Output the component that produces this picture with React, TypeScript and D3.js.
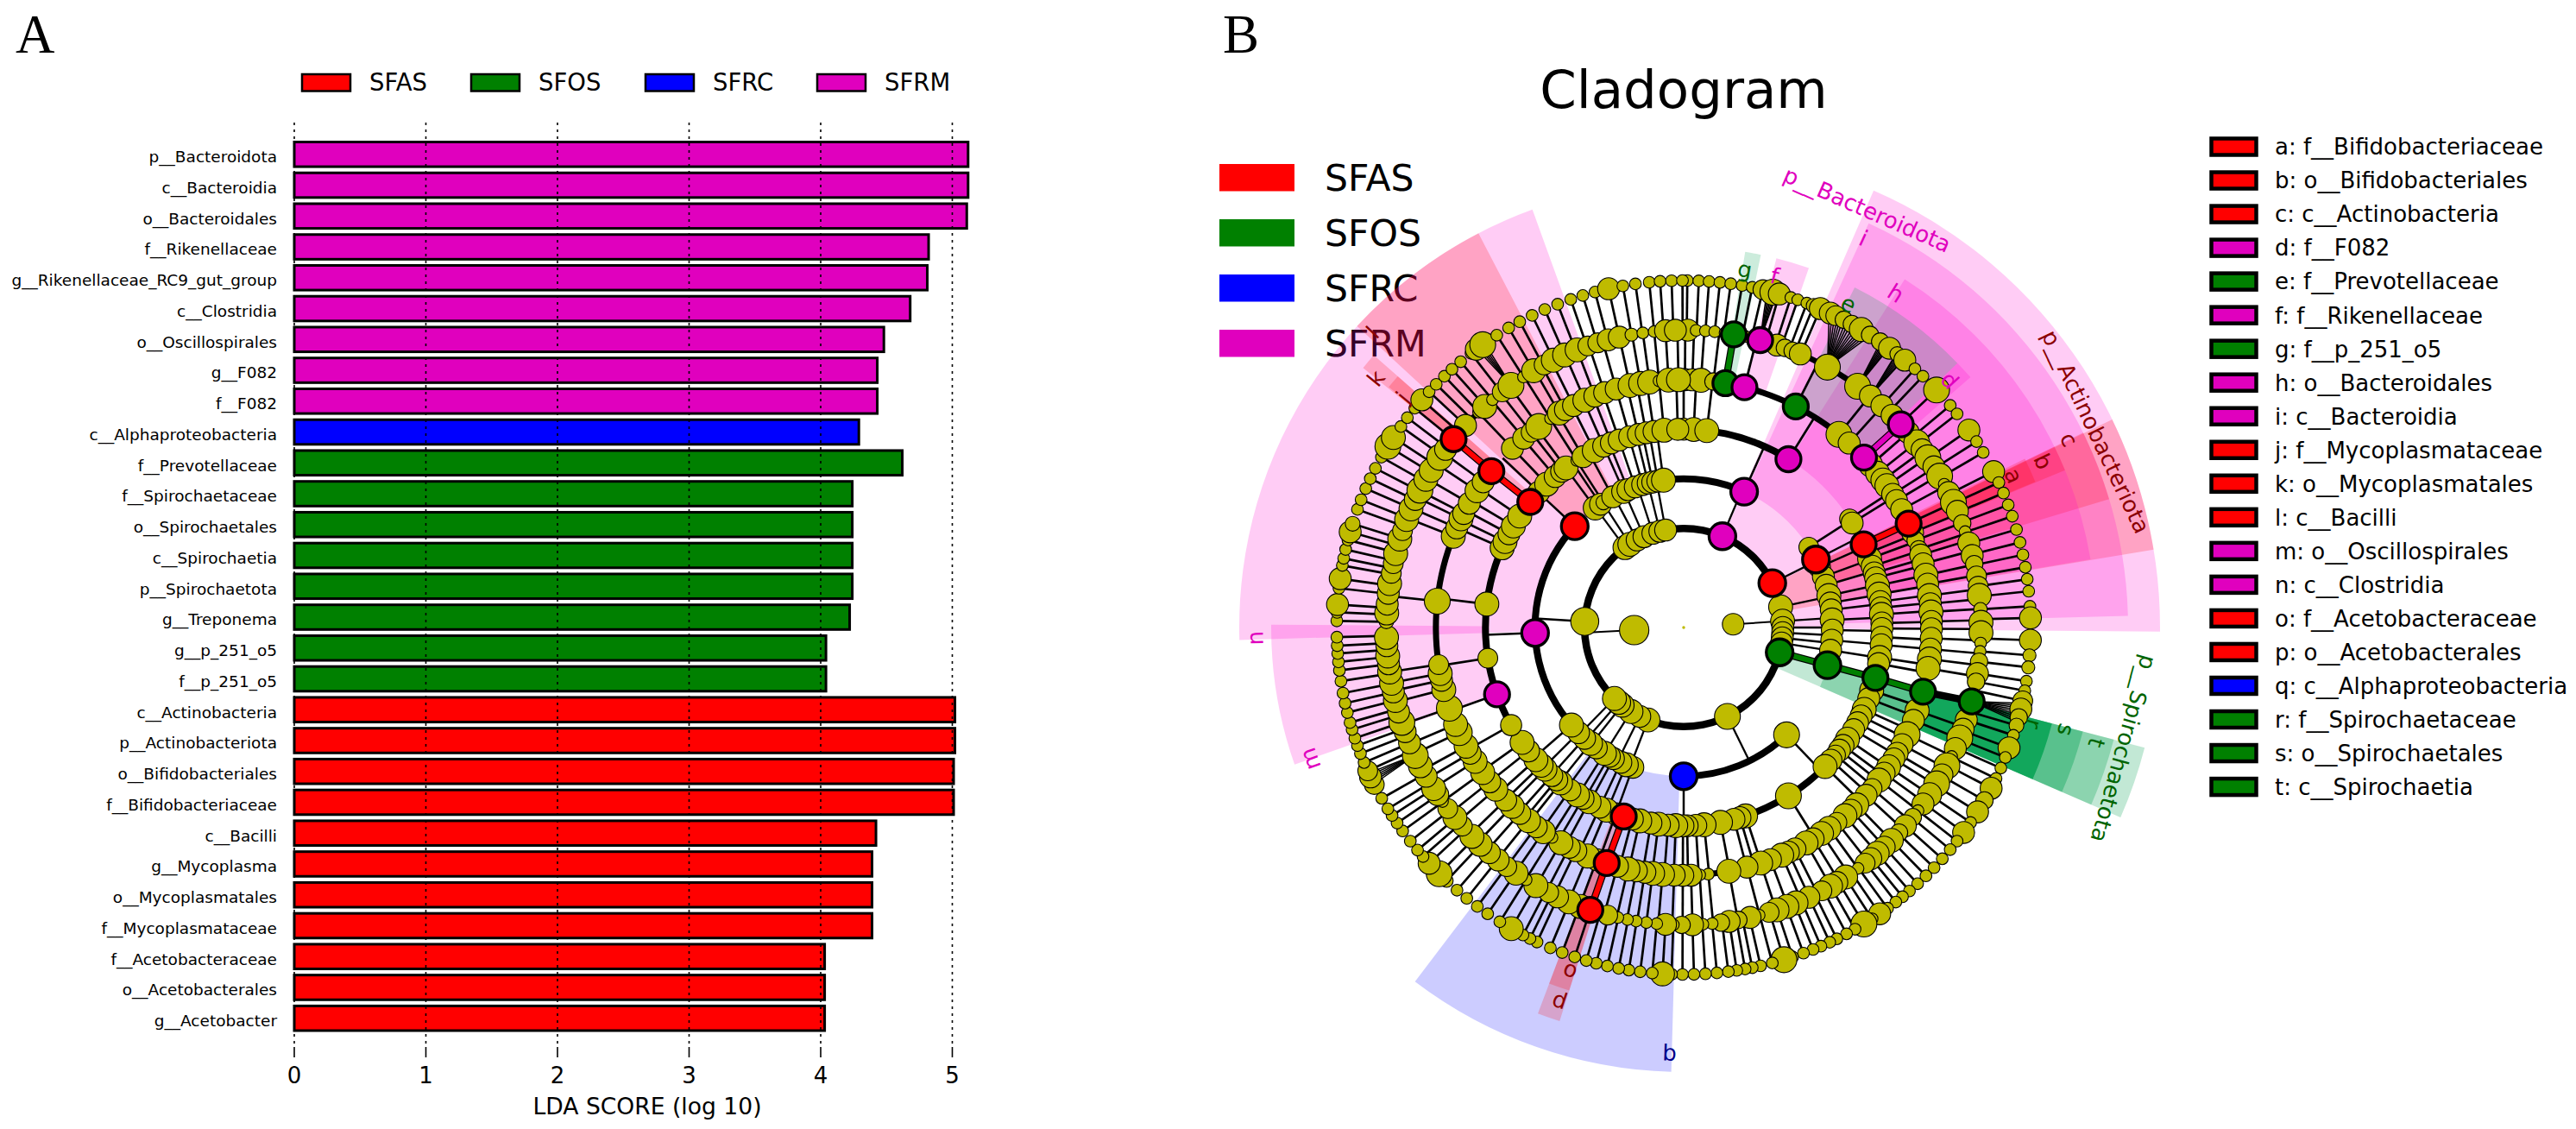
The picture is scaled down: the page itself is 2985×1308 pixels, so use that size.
// App.tsx - LDA score bars (A) and cladogram (B)
import { useEffect, useRef } from 'react';
import * as d3 from 'd3';

const FONT = '"DejaVu Sans", sans-serif';
const COLORS: Record<string, string> = { SFAS: '#ff0000', SFOS: '#008000', SFRC: '#0000ff', SFRM: '#e000be' };
const SHADES: Record<string, string> = { SFAS: '#ff0000', SFOS: '#00a050', SFRC: '#0000ff', SFRM: '#ff00cc' };
const LABEL_COLORS: Record<string, string> = { SFAS: '#8b0000', SFOS: '#006400', SFRC: '#00008b', SFRM: '#e000be' };
const groups = ['SFAS', 'SFOS', 'SFRC', 'SFRM'];

// panel A
const taxa = ['p__Bacteroidota', 'c__Bacteroidia', 'o__Bacteroidales', 'f__Rikenellaceae', 'g__Rikenellaceae_RC9_gut_group', 'c__Clostridia', 'o__Oscillospirales', 'g__F082', 'f__F082', 'c__Alphaproteobacteria', 'f__Prevotellaceae', 'f__Spirochaetaceae', 'o__Spirochaetales', 'c__Spirochaetia', 'p__Spirochaetota', 'g__Treponema', 'g__p_251_o5', 'f__p_251_o5', 'c__Actinobacteria', 'p__Actinobacteriota', 'o__Bifidobacteriales', 'f__Bifidobacteriaceae', 'c__Bacilli', 'g__Mycoplasma', 'o__Mycoplasmatales', 'f__Mycoplasmataceae', 'f__Acetobacteraceae', 'o__Acetobacterales', 'g__Acetobacter'];
const scores = [5.12, 5.12, 5.11, 4.82, 4.81, 4.68, 4.48, 4.43, 4.43, 4.29, 4.62, 4.24, 4.24, 4.24, 4.24, 4.22, 4.04, 4.04, 5.02, 5.02, 5.01, 5.01, 4.42, 4.39, 4.39, 4.39, 4.03, 4.03, 4.03];
const taxaGroup = ['SFRM', 'SFRM', 'SFRM', 'SFRM', 'SFRM', 'SFRM', 'SFRM', 'SFRM', 'SFRM', 'SFRC', 'SFOS', 'SFOS', 'SFOS', 'SFOS', 'SFOS', 'SFOS', 'SFOS', 'SFOS', 'SFAS', 'SFAS', 'SFAS', 'SFAS', 'SFAS', 'SFAS', 'SFAS', 'SFAS', 'SFAS', 'SFAS', 'SFAS'];
const scoreTicks = [0, 1, 2, 3, 4, 5];

// panel B legend
const cladeKey = [
  ['a: f__Bifidobacteriaceae', 'SFAS'], ['b: o__Bifidobacteriales', 'SFAS'], ['c: c__Actinobacteria', 'SFAS'], ['d: f__F082', 'SFRM'],
  ['e: f__Prevotellaceae', 'SFOS'], ['f: f__Rikenellaceae', 'SFRM'], ['g: f__p_251_o5', 'SFOS'], ['h: o__Bacteroidales', 'SFRM'],
  ['i: c__Bacteroidia', 'SFRM'], ['j: f__Mycoplasmataceae', 'SFAS'], ['k: o__Mycoplasmatales', 'SFAS'], ['l: c__Bacilli', 'SFAS'],
  ['m: o__Oscillospirales', 'SFRM'], ['n: c__Clostridia', 'SFRM'], ['o: f__Acetobacteraceae', 'SFAS'], ['p: o__Acetobacterales', 'SFAS'],
  ['q: c__Alphaproteobacteria', 'SFRC'], ['r: f__Spirochaetaceae', 'SFOS'], ['s: o__Spirochaetales', 'SFOS'], ['t: c__Spirochaetia', 'SFOS'],
];

// shaded clades: label, ring of the clade, start deg, end deg, label deg, group
const clades: [string, number, number, number, number, string][] = [
  ['p__Bacteroidota', 2, 23.5, 90.5, 23.7, 'SFRM'],
  ['p__Actinobacteriota', 2, 64.1, 80.6, 64.6, 'SFAS'],
  ['p__Spirochaetota', 2, 104.6, 113.5, 105.4, 'SFOS'],
  ['i', 3, 24.6, 88.5, 24.8, 'SFRM'],
  ['c', 3, 64, 73.2, 64, 'SFAS'],
  ['t', 3, 104.6, 113.5, 105.6, 'SFOS'],
  ['q', 3, 181.6, 217.2, 181.9, 'SFRC'],
  ['n', 3, 268.4, 340.1, 268.6, 'SFRM'],
  ['l', 3, 312.7, 332.5, 313.5, 'SFAS'],
  ['h', 4, 32.4, 80.5, 32.4, 'SFRM'],
  ['b', 4, 64, 67.6, 65.2, 'SFAS'],
  ['s', 4, 104.6, 113.5, 105, 'SFOS'],
  ['p', 4, 197.5, 200.7, 198.4, 'SFAS'],
  ['m', 4, 250.6, 270.4, 250.6, 'SFRM'],
  ['k', 4, 309, 311.3, 309, 'SFAS'],
  ['a', 5, 63.7, 67.5, 65.3, 'SFAS'],
  ['d', 5, 46, 48.9, 47.1, 'SFRM'],
  ['e', 5, 26.7, 46, 27, 'SFOS'],
  ['f', 5, 14.1, 19.2, 14.5, 'SFRM'],
  ['g', 5, 9.3, 11.7, 9.7, 'SFOS'],
  ['j', 5, 309.2, 311.3, 309.3, 'SFAS'],
  ['o', 5, 197.5, 200.7, 198.3, 'SFAS'],
  ['r', 5, 104.6, 113.5, 105.4, 'SFOS'],
];

// tree: [angle deg clockwise from north, abundance]
const ring0 = [[0, 0.09]];
const ring1 = [[86.3, 2.9], [267, 5]];
const ring2 = [[78, 3.5], [86.3, 3.5], [90, 3], [93, 3], [96, 3], [99, 3], [153.8, 4], [201.1, 3.5], [206.3, 3], [212.1, 3.5], [218.4, 3.5], [221, 3.5], [224.3, 3.5], [273.5, 4.6], [323.7, 3.5], [327.1, 3.5], [332, 3], [336.4, 3], [341.9, 3], [346.1, 3], [349.5, 3]];
const ring3 = [[57.3, 2.5], [66, 3], [70, 3], [73.5, 3], [77.6, 3.5], [80.5, 3], [83.2, 3], [87.1, 3.5], [91, 3], [94.9, 3], [98.8, 3], [136.2, 4], [200, 3], [202.7, 3.5], [205, 3], [208.2, 3], [210, 3], [212.2, 3.5], [216, 3], [218.8, 3.5], [221.8, 3], [225, 3], [229, 3.5], [323.5, 3.5], [326, 3], [327.3, 1.5], [331.5, 3], [336.2, 3.5], [338, 3], [341, 3], [344, 3], [346.2, 3], [348, 3], [350, 3], [352.2, 3.5]];
const ring4 = [[0, 3], [2.9, 3.5], [6.7, 3.5], [56.8, 2.5], [58.2, 3], [68, 2.5], [69.7, 3.5], [72, 3], [74, 3], [75.5, 3], [77.8, 3.5], [80.3, 3.5], [82.5, 3], [84.3, 3], [86.2, 3.5], [88.7, 3],
  [90.3, 3], [92.8, 3], [95, 3], [98.7, 3.5], [100.5, 3], [108.5, 3.5], [111, 3], [114.4, 3.5], [116.5, 3], [118.7, 3], [121, 3], [124.3, 3.5], [126.5, 3], [128.2, 3], [130, 2.5], [132, 3], [134.5, 3.5], [148.1, 4], [161.8, 3.5], [163.5, 3], [165.3, 3], [169.3, 3.5], [174.1, 3.5], [176.5, 3], [179, 3],
  [180.2, 3], [182.3, 3.5], [184.5, 3], [187.3, 3.5], [189.5, 3], [192.8, 3.5], [195, 3], [200, 3], [202.9, 3.5], [205, 3], [208.5, 3.5], [210.5, 3], [212.4, 3.5], [215, 3], [218.4, 3.5], [219.8, 3], [221.7, 3], [224.4, 3.5], [226, 3.5], [228.2, 3.5], [231.5, 3], [234.6, 3.5], [240.5, 2.8], [261.1, 2.5],
  [276.8, 3.5], [293.7, 3.5], [295.7, 3.5], [298.2, 3], [300.8, 3.5], [304.2, 3.5], [313.1, 3], [316.3, 3.5], [319.6, 3], [322, 3], [323.6, 3.5], [327.4, 1], [329.5, 3], [333.2, 3.5], [336.2, 3], [338.6, 3], [341, 3], [344.2, 3], [346.8, 3], [349.1, 3], [351.4, 3], [354.3, 3.5], [358.3, 3]];
const ring5 = [[0.3, 3], [2, 3], [4, 3.5], [6.9, 2], [38.8, 4], [41.9, 3], [49, 3.5], [51.5, 3.5], [53.5, 3.5], [55.1, 3.5], [57.5, 3], [59.2, 3], [61.6, 3], [67.5, 3], [69.4, 2], [71.6, 2], [73, 3], [75.1, 3], [77.8, 3.5], [79.9, 3], [82.6, 3.5], [84.5, 3], [86.4, 3.5], [88.6, 3],
  [90.3, 3], [92.5, 3], [95, 3], [97.3, 3.5], [99.5, 3.5], [109.6, 3.5], [112, 3], [115.6, 4], [118.2, 3], [120.5, 3], [122, 3], [124.2, 3.5], [126, 3], [128, 3.5], [130.5, 2.5], [132.6, 3], [135.7, 3.5], [137.5, 3], [139.4, 3.5], [141.8, 2.5], [144.1, 3.5], [146.2, 3.5], [148.5, 3], [150.4, 3.5], [153.3, 3], [155, 3], [156.7, 3.5], [159.5, 3], [161.9, 3.5], [165.2, 3], [169.5, 3.5], [174.3, 1], [176.3, 1], [178.3, 3],
  [180.2, 3], [182.2, 3], [184.9, 3.5], [187.2, 3.5], [189, 3], [191, 3], [193, 3.5], [195.5, 3], [200.5, 3], [202.8, 3.5], [205.8, 3], [207.5, 3], [209.7, 3.5], [212.1, 1], [214.5, 3.5], [216.5, 3], [218.8, 3.5], [221.4, 3], [223.8, 3.5], [225.9, 3], [229.3, 3.5], [231.5, 3], [234.2, 3.5], [237.3, 3.5], [239.5, 3], [241.4, 3.5], [244.9, 4], [247, 3.5], [251, 4], [255.5, 3.5], [257.7, 3], [259.3, 3.5], [261.4, 2.5],
  [276.1, 4], [291.6, 3.5], [293.7, 3], [296, 3.5], [297.4, 3], [300.1, 3], [303.5, 3.5], [306, 3], [316.3, 3], [319.8, 3], [322, 2.5], [324.2, 4], [327.5, 1], [329.9, 3.5], [331.5, 3], [333.6, 3], [336.5, 3.5], [339, 3], [341.4, 3], [344.2, 3], [347.5, 3.5], [350, 3.5], [352.1, 3.5], [354.3, 1], [356.5, 3.5], [358.8, 3.5]];
const ring6 = [[0.8, 3], [2.4, 1], [4.2, 1], [6, 1], [8, 1], [12, 1], [18.3, 3], [19.9, 2], [21.5, 2], [23.1, 3], [28.9, 4], [35.8, 4], [38.9, 3], [41.8, 3], [44.5, 3], [49, 3], [51.6, 4], [53.3, 3], [55.2, 4], [57.3, 3], [59.4, 4], [61.2, 1], [63, 3], [65.1, 4], [67, 3], [69.5, 2], [71.2, 1], [73.5, 3], [76, 3], [77.7, 2], [80, 2.5], [82, 2.5], [83.8, 3.5], [86.5, 1.3], [89, 3.5],
  [91, 3.5], [93, 1], [94.6, 1], [96.6, 2], [98.9, 3], [100.5, 2], [108.1, 3], [110, 3], [111.8, 4], [114, 3], [115.7, 1], [117.7, 4], [119.7, 3], [121.7, 4], [124.2, 3.5], [126.4, 3], [128, 1], [129.6, 2], [131.8, 3], [133.6, 2], [135.7, 3.5], [137.6, 3], [139.4, 3.5], [141, 3], [142.4, 2.5], [144.1, 1], [147, 3.5], [149, 3], [150.4, 3.5], [152.3, 2.5], [155.1, 3], [157.8, 3.5], [159.7, 3.5], [161.7, 3.5], [163.3, 2.5], [165.3, 1], [167.1, 3], [169.4, 2], [171.2, 3], [172.8, 2], [174.5, 1], [176.3, 1], [178.3, 3],
  [180.4, 2], [182, 1], [183.5, 3], [185.2, 1], [187.2, 1], [189.2, 1], [190.9, 1], [192.8, 1], [194.8, 2.5], [200.3, 3.5], [202.7, 3.5], [205.1, 3], [207, 2.5], [209.8, 3.5], [212, 1], [214.3, 3.5], [216.5, 2.5], [218.6, 3], [220.8, 3], [223.2, 3.5], [225.4, 3.5], [228.1, 2.5], [230.3, 3.5], [232.5, 2.5], [234.2, 1], [235.8, 3], [237.2, 3.5], [240, 3], [242.3, 3.5], [244.5, 4], [247.2, 3], [249.5, 3], [251.4, 4], [253.5, 3], [255.8, 3.5], [257.5, 3], [259.2, 3.5], [261.4, 3.5], [263, 3], [264.5, 3.5], [266.5, 3], [268.1, 3.5],
  [271.2, 1.5], [272.8, 3.5], [274.5, 3], [276.6, 3], [278.5, 3.5], [280.5, 2.5], [282.4, 2.5], [284.4, 3.5], [287.3, 3.5], [289, 2.5], [291.3, 3.5], [293.5, 3.5], [295.5, 3], [297.5, 4], [299.9, 3.5], [301.9, 3.5], [304.9, 4], [306.8, 3], [312.8, 3], [316.4, 1], [318, 3.5], [320, 1], [322.4, 2.5], [324.5, 4], [327.4, 1], [329.7, 3.5], [332, 2.5], [334, 3.5], [336.4, 3.5], [339, 3.5], [341.2, 2.5], [343.2, 2.5], [345.3, 3], [347.5, 3], [349.9, 1.2], [352.1, 1], [354.3, 1], [356.5, 3], [358.4, 3]];
const ring7 = [[0.6, 1], [2.5, 1], [4.2, 1], [6, 1], [7.8, 1], [9.7, 1], [11.4, 1], [13.2, 2.5], [14.9, 4], [16, 3], [18, 1], [19.2, 1], [20.8, 1], [22, 1.5], [23.2, 3], [25, 3], [26, 2.5], [27.5, 2], [29, 2], [30.8, 3.5], [32.5, 2], [34.5, 2], [36.4, 3], [38, 1.5], [39.6, 3], [41.8, 1], [43.6, 1], [46.8, 4], [50.2, 1], [52, 1], [55.3, 3], [57.6, 1], [59.7, 1], [63.3, 3], [65.3, 1], [67.2, 1], [69.3, 1], [71.3, 1], [73.6, 1], [75.8, 1], [77.9, 1], [80, 1], [82, 1], [84, 1], [86.5, 1], [88.4, 3],
  [92.1, 3], [94.6, 1.2], [96.6, 1.2], [98.9, 1], [100.5, 1], [102.2, 2.5], [103.6, 3], [105, 2], [106.4, 1.5], [108.1, 1], [110.3, 3], [112, 1], [113.9, 1], [115.8, 1], [117.6, 3], [119.9, 2], [122.1, 3], [124.2, 1], [126.2, 3], [128, 1], [129.8, 1], [131.8, 1], [133.8, 1], [135.7, 1], [137.6, 1], [139.4, 1], [140.9, 1], [142.3, 1], [144, 1], [145.6, 3], [147.1, 1], [148.7, 4], [150.4, 1], [152, 1], [153.8, 1], [155.1, 1], [156.7, 1], [158.1, 1], [159.8, 1], [161.7, 1], [163.2, 4], [165.2, 1], [167.2, 1], [168.6, 1], [169.8, 1], [171.2, 1], [172.6, 1], [174.5, 1], [176.4, 1], [178.3, 1],
  [180.2, 1], [182, 1], [183.5, 3.5], [185.2, 1], [187.2, 1], [189.1, 1], [190.8, 1], [192.7, 1], [194.6, 1], [196.3, 1], [198.3, 1], [200.5, 1], [202.6, 1], [205, 1], [206.3, 1], [207.6, 1], [209.8, 3.5], [212, 1], [214.4, 1], [216.5, 1], [218.7, 1], [220.8, 1], [223.1, 1.2], [224.8, 4], [227.2, 3], [228.7, 1], [230.1, 1], [232, 1], [234.1, 1], [235.7, 1], [237.2, 1], [238.5, 1], [240.5, 1], [243.1, 2.5], [244.5, 3], [245.6, 2.5], [247.1, 1], [248.7, 1], [250.1, 1], [251.4, 1], [252.9, 1], [254.1, 1], [255.8, 1], [257.4, 1], [259.1, 1], [261.1, 1], [262.9, 1], [264.3, 1], [265.7, 1], [267, 1], [268.4, 1],
  [271.1, 1], [272.5, 1], [273.8, 3], [276.5, 1], [278.1, 3], [280.3, 1], [281.5, 1], [283, 1], [284.6, 1], [286, 3], [287.4, 1.5], [289.9, 1], [291.6, 1], [293.6, 1], [295.4, 1], [297.3, 1], [299.4, 1], [301.5, 4], [303.2, 3.5], [305.4, 1], [307.2, 1], [309.2, 1], [311, 3], [312.8, 1], [314.5, 1], [316.4, 1], [318.1, 1], [320, 1], [322.2, 1], [323.3, 3], [324.6, 4], [327.4, 1], [329.7, 1], [331.8, 1], [334.1, 1], [336.4, 1], [338.7, 1], [341, 1], [343.1, 1], [345.2, 1], [347.5, 3], [349.9, 1], [352, 1], [354.3, 1], [356.1, 1], [358, 1], [359.8, 1]];

// biomarker nodes: [ring, angle]
const markerNodes: Record<string, number[][]> = {
  SFAS: [[2, 63.4], [3, 62.8], [4, 65.2], [5, 65.2], [3, 312.9], [4, 309.3], [5, 309.1], [6, 309.3], [4, 197.6], [5, 198.1], [6, 198.3]],
  SFOS: [[2, 104.5], [3, 104.7], [4, 104.7], [5, 105], [6, 104.4], [5, 26.9], [5, 9.7], [6, 9.7]],
  SFRC: [[3, 180]],
  SFRM: [[2, 23], [3, 24], [4, 31.9], [5, 14.2], [6, 14.9], [5, 46.7], [6, 46.9], [3, 267.9], [4, 250.3]],
};
// coloured thick branches
const markerBranches: [string, number[][]][] = [
  ['#ff0000', [[4, 65.2], [5, 65.2]]],
  ['#ff0000', [[4, 309.3], [5, 309.1], [6, 309.3]]],
  ['#ff0000', [[4, 197.6], [5, 198.1], [6, 198.3]]],
  ['#008000', [[2, 104.5], [3, 104.7], [4, 104.7], [5, 105]]],
  ['#000000', [[5, 105], [6, 104.4]]],
  ['#008000', [[5, 9.7], [6, 9.7]]],
  ['#e000be', [[5, 46.7], [6, 46.9]]],
];
// connecting arcs: ring, start, end
const ringArcs = [[2, 0, 360], [3, -36.5, 24], [3, 57.3, 104.7], [3, 136.2, 180], [3, 200, 313], [4, 56.8, 309.3], [4, 313, 391.9], [5, 316, 670], [6, 0, 360]];
// parents that fan straight out to several leaves: ring 6 angle, leaf angles
const leafFans: [number, number[]][] = [
  [28.9, [24.8, 25.3, 25.8, 26.3, 26.8, 27.3, 27.9, 28.4, 28.9, 29.5, 30, 30.6, 31.1, 31.6, 32.1, 32.6]],
  [35.8, [34.6, 34.9, 35.2, 35.5, 35.8, 36.1, 36.3]],
  [38.9, [37.8, 38, 38.3, 38.6, 38.9, 39.2, 39.4]],
  [14.9, [13.9, 14.2, 14.5, 14.8, 15.1, 15.4, 15.6]],
  [104.4, [102.6, 103, 103.4, 103.8, 104.2, 104.6, 105, 105.4, 105.8]],
  [244.6, [243.2, 243.6, 244, 244.4, 244.8, 245.2]],
  [324.5, [323.4, 323.8, 324.2, 324.6, 325]],
];

const shadeOuter: Record<number, number> = { 2: 552, 3: 515, 4: 478, 5: 441 };
const shadeLabel: Record<number, number> = { 2: 528, 3: 496, 4: 458, 5: 420 };
const greenAlpha: Record<number, number> = { 2: 0.24, 3: 0.28, 4: 0.36, 5: 0.8 };

const App = () => {
  const ref = useRef<SVGSVGElement>(null);

  useEffect(() => {
    const svg = d3.select(ref.current);
    svg.selectAll('*').remove();
    svg.style('font-family', FONT);

    // panel letters
    svg.append('text').attr('x', 18).attr('y', 61).attr('font-family', '"Liberation Serif"').attr('font-size', 63).text('A');
    svg.append('text').attr('x', 1417).attr('y', 61).attr('font-family', '"Liberation Serif"').attr('font-size', 63).text('B');

    // ---- panel A ----
    const x = d3.scaleLinear().domain([0, 5]).range([341, 1103.5]);
    const y = d3.scaleBand().domain(taxa).range([164.5, 1194]).paddingInner(0.2);
    const a = svg.append('g');

    const keyX = [350, 546, 748, 947];
    groups.forEach((g, i) => {
      a.append('rect').attr('x', keyX[i]).attr('y', 86).attr('width', 56).attr('height', 19.5)
        .attr('fill', COLORS[g]).attr('stroke', '#000').attr('stroke-width', 2.5);
      a.append('text').attr('x', keyX[i] + 78).attr('y', 105).attr('font-size', 27.5).text(g);
    });

    a.selectAll('rect.bar').data(taxa).enter().append('rect').attr('class', 'bar')
      .attr('x', x(0)).attr('y', (d) => y(d)!)
      .attr('width', (_, i) => x(scores[i]) - x(0)).attr('height', y.bandwidth())
      .attr('fill', (_, i) => COLORS[taxaGroup[i]]).attr('stroke', '#000').attr('stroke-width', 3);
    a.selectAll('text.taxon').data(taxa).enter().append('text').attr('class', 'taxon')
      .attr('x', 321).attr('y', (d) => y(d)! + y.bandwidth() / 2 + 3.5).attr('dy', '0.32em')
      .attr('text-anchor', 'end').attr('font-size', 18.5).text((d) => d);

    scoreTicks.forEach((t) => {
      a.append('line').attr('x1', x(t)).attr('x2', x(t)).attr('y1', 142).attr('y2', 1213)
        .attr('stroke', '#000').attr('stroke-width', 1.6).attr('stroke-dasharray', '3 5');
      a.append('line').attr('x1', x(t)).attr('x2', x(t)).attr('y1', 1213).attr('y2', 1225)
        .attr('stroke', '#000').attr('stroke-width', 1.6);
      a.append('text').attr('x', x(t)).attr('y', 1255).attr('text-anchor', 'middle').attr('font-size', 26).text(t);
    });
    a.append('text').attr('x', 750).attr('y', 1291).attr('text-anchor', 'middle').attr('font-size', 26.6).text('LDA SCORE (log 10)');

    // ---- panel B ----
    svg.append('text').attr('x', 1951).attr('y', 125).attr('text-anchor', 'middle').attr('font-size', 61).text('Cladogram');

    groups.forEach((g, i) => {
      svg.append('rect').attr('x', 1413).attr('y', 190 + i * 64).attr('width', 87).attr('height', 31.5).attr('fill', COLORS[g]);
      svg.append('text').attr('x', 1535).attr('y', 221 + i * 64).attr('font-size', 42.5).text(g);
    });

    cladeKey.forEach(([t, g], i) => {
      const cy = 170 + i * 39.03;
      svg.append('rect').attr('x', 2562.5).attr('y', cy - 9.5).attr('width', 52).attr('height', 19)
        .attr('fill', COLORS[g]).attr('stroke', '#000').attr('stroke-width', 4.5);
      svg.append('text').attr('x', 2636).attr('y', cy).attr('dy', '0.36em').attr('font-size', 26).text(t);
    });

    const rad = (deg: number) => (deg * Math.PI) / 180;
    const r = d3.scaleLinear().domain([0, 7]).range([0, 402]);
    const nodeR = d3.scalePow().exponent(0.57).domain([0, 1]).range([0, 6.8]);
    const arc = d3.arc();
    const radial = d3.lineRadial();
    const pt = (ring: number, deg: number) => d3.pointRadial(rad(deg), r(ring));
    const c = svg.append('g').attr('transform', 'translate(1951,727)');

    // shaded sectors
    clades.forEach(([, ring, s, e, , g]) => {
      c.append('path').attr('fill', SHADES[g]).attr('fill-opacity', g === 'SFOS' && s > 100 ? greenAlpha[ring] : 0.2)
        .attr('d', arc({ innerRadius: r(ring), outerRadius: shadeOuter[ring], startAngle: rad(s), endAngle: rad(e) } as any));
    });

    // branches: every node sends a radial line out to the next ring
    const spokeWidth = [2, 2, 2.3, 2.5, 2.7, 2.7, 2.7];
    const rings = [ring0, ring1, ring2, ring3, ring4, ring5, ring6, ring7];
    for (let k = 1; k <= 5; k++) {
      const marks = Object.values(markerNodes).flat().filter((m) => m[0] === k).map((m) => m[1]);
      [...rings[k].map((n) => n[0]), ...marks].forEach((deg) => {
        c.append('path').attr('fill', 'none').attr('stroke', '#000').attr('stroke-width', spokeWidth[k])
          .attr('d', radial([[rad(deg), r(k)], [rad(deg), r(k + 1)]] as any));
      });
    }
    // leaves hang from ring 6, except the fans
    const inFan = (deg: number) => leafFans.some(([, l]) => deg >= l[0] - 0.3 && deg <= l[l.length - 1] + 0.3);
    ring7.forEach(([deg]) => {
      if (inFan(deg)) return;
      c.append('path').attr('fill', 'none').attr('stroke', '#000').attr('stroke-width', spokeWidth[6])
        .attr('d', radial([[rad(deg), r(6)], [rad(deg), r(7)]] as any));
    });
    leafFans.forEach(([p, leaves]) => {
      const [px, py] = pt(6, p);
      leaves.forEach((deg) => {
        const [lx, ly] = pt(7, deg);
        c.append('line').attr('x1', px).attr('y1', py).attr('x2', lx).attr('y2', ly)
          .attr('stroke', '#000').attr('stroke-width', 1.5);
      });
    });

    // arcs joining the children of a node
    const arcWidth: Record<number, number> = { 2: 8.5, 3: 8, 4: 8, 5: 7, 6: 6.5 };
    ringArcs.forEach(([ring, s, e]) => {
      c.append('path').attr('fill', '#000').attr('d', arc({
        innerRadius: r(ring) - arcWidth[ring] / 2, outerRadius: r(ring) + arcWidth[ring] / 2, startAngle: rad(s), endAngle: rad(e),
      } as any));
    });

    // thick coloured branches
    const branch = d3.line();
    markerBranches.forEach(([col, chain]) => {
      const p = chain.map(([ring, deg]) => pt(ring, deg));
      c.append('path').attr('fill', 'none').attr('stroke', '#000').attr('stroke-width', 8.5).attr('d', branch(p as any));
      c.append('path').attr('fill', 'none').attr('stroke', col).attr('stroke-width', 6).attr('d', branch(p as any));
    });

    // plain nodes, outer ring first
    for (let k = 7; k >= 0; k--) {
      rings[k].forEach(([deg, ab]) => {
        const [cx, cy] = pt(k, deg);
        c.append('circle').attr('cx', cx).attr('cy', cy).attr('r', nodeR(ab))
          .attr('fill', '#bfbb00').attr('stroke', '#000').attr('stroke-width', k === 0 ? 0 : 1.1);
      });
    }
    // biomarker nodes
    Object.entries(markerNodes).forEach(([g, nodes]) => {
      nodes.forEach(([ring, deg]) => {
        const [cx, cy] = pt(ring, deg);
        c.append('circle').attr('cx', cx).attr('cy', cy).attr('r', ring <= 3 ? 15.5 : 14.5)
          .attr('fill', COLORS[g]).attr('stroke', '#000').attr('stroke-width', 3.3);
      });
    });

    // clade labels follow the circle
    clades.forEach(([name, ring, , , deg, g]) => {
      const [lx, ly] = d3.pointRadial(rad(deg), shadeLabel[ring]);
      c.append('text').attr('transform', `translate(${lx},${ly}) rotate(${deg})`)
        .attr('text-anchor', 'middle').attr('dy', '0.32em').attr('font-size', 26)
        .attr('fill', LABEL_COLORS[g]).text(name);
    });
  }, []);

  return (
    <svg ref={ref} width={2985} height={1308} style={{ position: 'absolute', left: 0, top: 0, background: '#fff' }} />
  );
};

export default App;
